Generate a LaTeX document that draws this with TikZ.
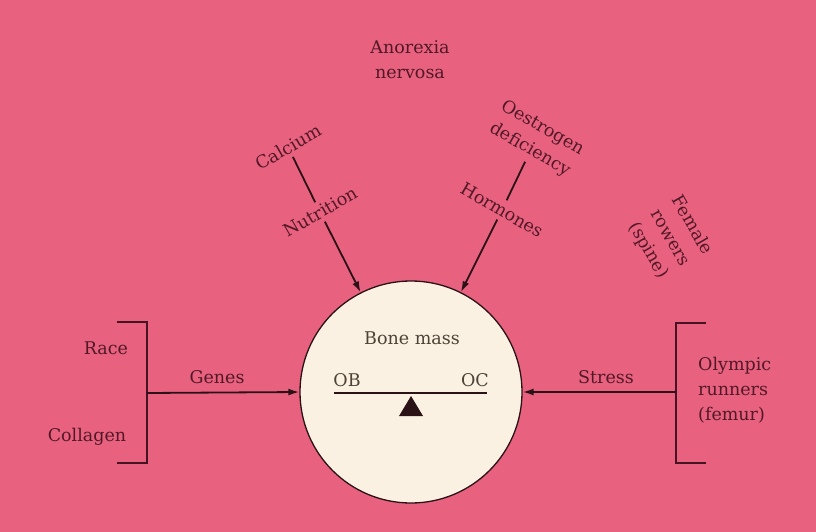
\documentclass[tikz,border=0pt]{standalone}
\usepackage{fontspec}
\setmainfont{DejaVu Serif}
\usetikzlibrary{arrows.meta}
\definecolor{bg}{HTML}{E8627F}
\definecolor{txt}{HTML}{521828}
\definecolor{ln}{HTML}{2A1217}
\definecolor{brk}{HTML}{461322}
\definecolor{cream}{HTML}{FAF1E3}
\definecolor{intxt}{HTML}{4E4236}
\begin{document}
\begin{tikzpicture}[x=1pt,y=-1pt,
  lbl/.style={text=txt, font=\fontsize{17.5}{25}\selectfont, inner sep=4pt, align=center},
  inlbl/.style={text=intxt, font=\fontsize{17.5}{25}\selectfont, inner sep=2pt},
  arr/.style={line width=1.8pt, draw=ln, -{Latex[length=11pt,width=7pt]}},
  seg/.style={line width=1.8pt, draw=ln},
  bracket/.style={line width=2.4pt, draw=brk}]
\fill[bg] (0,0) rectangle (816,532);
\useasboundingbox (0,0) rectangle (816,532);
% central circle
\node[circle, draw=ln, line width=1.3pt, fill=cream, minimum size=222pt, inner sep=0pt] (bone) at (411,392) {};
\node[inlbl] (bm) at (412,338) {Bone mass};
\node[inlbl] (ob) at (347,380) {OB};
\node[inlbl] (oc) at (475,380) {OC};
\coordinate (beamL) at (334,393);
\coordinate (beamR) at (487,393);
\draw[line width=2.6pt, draw=ln] (beamL) -- (beamR);
\coordinate (tipA) at (411,396);
\coordinate (tipB) at (399,416);
\coordinate (tipC) at (423,416);
\fill[ln] (tipA) -- (tipB) -- (tipC) -- cycle;
% top labels
\node[lbl] (anorexia) at (410,60) {Anorexia\\nervosa};
\node[lbl, rotate=30] (calcium) at (288,147) {Calcium};
\node[lbl, rotate=30] (nutrition) at (320,212) {Nutrition};
\node[lbl, rotate=-30] (oest) at (536,139) {Oestrogen\\deficiency};
\node[lbl, rotate=-30] (hormones) at (502,210) {Hormones};
\node[lbl, rotate=-60] (female) at (670,238) {Female\\rowers\\(spine)};
\draw[seg] (calcium) -- (nutrition);
\draw[arr] (nutrition) -- (bone);
\draw[seg] (oest) -- (hormones);
\draw[arr] (hormones) -- (bone);
% left bracket
\coordinate (lt0) at (117,322);
\coordinate (lt1) at (147,322);
\coordinate (lb1) at (147,463);
\coordinate (lb0) at (117,463);
\coordinate (lmid) at (147,393);
\draw[bracket] (lt0) -- (lt1) -- (lb1) -- (lb0);
\node[lbl] (race) at (106,348) {Race};
\node[lbl] (collagen) at (87,437) {Collagen};
\node[lbl] (genes) at (217,377) {Genes};
\draw[arr] (lmid) -- (bone.west);
% right bracket
\coordinate (rt0) at (706,323);
\coordinate (rt1) at (676,323);
\coordinate (rb1) at (676,463);
\coordinate (rb0) at (706,463);
\coordinate (rmid) at (676,392);
\draw[bracket] (rt0) -- (rt1) -- (rb1) -- (rb0);
\node[lbl] (stress) at (606,377) {Stress};
\node[lbl, align=left, anchor=west] (olympic) at (694,390) {Olympic\\runners\\(femur)};
\draw[arr] (rmid) -- (bone.east);
\end{tikzpicture}
\end{document}
